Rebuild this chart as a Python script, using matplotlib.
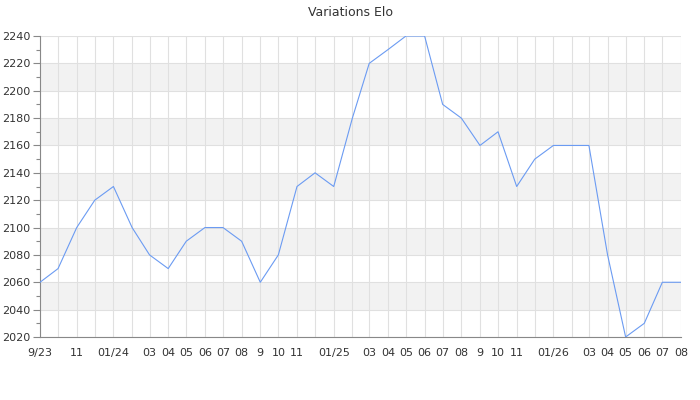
import matplotlib
matplotlib.use("Agg")
import matplotlib.pyplot as plt
import matplotlib.dates as mdates
import numpy as np
import pandas as pd

# monthly Elo ratings, Sep 2023 -> Aug 2026
months = pd.date_range("2023-09-01", "2026-08-01", freq="MS")
elo = [2060, 2070, 2100, 2120, 2130, 2100, 2080, 2070, 2090, 2100, 2100, 2090,
       2060, 2080, 2130, 2140, 2130, 2180, 2220, 2230, 2240, 2240, 2190, 2180,
       2160, 2170, 2130, 2150, 2160, 2160, 2160, 2080, 2020, 2030, 2060, 2060]
# x labels (blank where the original hides them)
month_labels = ["9/23", "", "11", "", "01/24", "", "03", "04", "05", "06", "07", "08",
                "9", "10", "11", "", "01/25", "", "03", "04", "05", "06", "07", "08",
                "9", "10", "11", "", "01/26", "", "03", "04", "05", "06", "07", "08"]

fig = plt.figure(figsize=(7, 4), dpi=100)
ax = fig.add_axes([40/700, 63/400, 641/700, 301/400])

ymin, ymax = 2020, 2240
# alternating bands
for lo in range(2040, ymax, 40):
    ax.axhspan(lo, lo + 20, color="#f2f2f2", zorder=0, lw=0)

ax.plot(months, elo, color="#6b9bf2", lw=0.8, zorder=3)

ax.set_xlim(months[0], months[-1])
ax.set_ylim(ymin, ymax)
ax.set_xticks(months)
ax.set_xticklabels(month_labels)
ax.set_yticks(np.arange(ymin, ymax + 1, 20))
ax.set_yticks(np.arange(ymin + 10, ymax, 20), minor=True)

ax.grid(True, which="major", color="#e0e0e0", lw=0.8, zorder=1)
ax.set_axisbelow(True)

for s in ["top", "right"]:
    ax.spines[s].set_visible(False)
for s in ["left", "bottom"]:
    ax.spines[s].set_color("#888888")
    ax.spines[s].set_linewidth(0.8)

ax.tick_params(axis="x", length=0, pad=8, labelsize=8, colors="#333333")
ax.tick_params(axis="y", which="major", length=5, width=0.8, color="#888888",
               labelsize=8, labelcolor="#333333", pad=2)
ax.tick_params(axis="y", which="minor", length=3, width=0.8, color="#888888")

fig.suptitle("Variations Elo", y=0.985, fontsize=9, color="#333333")

fig.savefig("out.png", dpi=100)
